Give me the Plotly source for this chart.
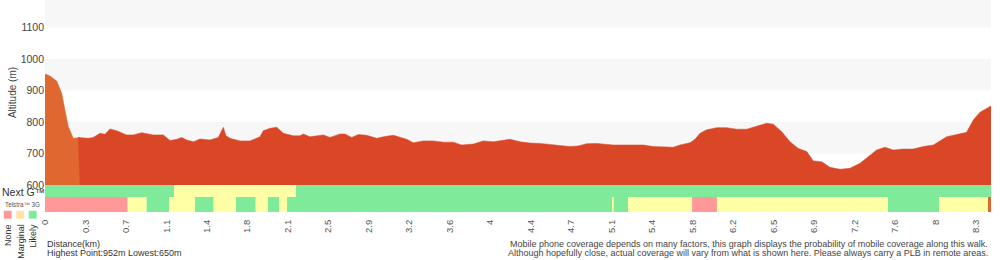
import numpy as np
import plotly.graph_objects as go

# ---------------- data ----------------
total_km = 8.43
split_km = 0.312  # end of the approach section (drawn in orange)

dist_km = [0.000, 0.045, 0.104, 0.149, 0.178, 0.208, 0.252, 0.297, 0.386, 0.430,
           0.490, 0.535, 0.579, 0.639, 0.728, 0.787, 0.862, 0.965, 1.054, 1.114,
           1.174, 1.218, 1.263, 1.322, 1.381, 1.470, 1.544, 1.575, 1.589, 1.613,
           1.649, 1.738, 1.827, 1.916, 1.945, 2.005, 2.065, 2.124, 2.213, 2.272,
           2.302, 2.361, 2.451, 2.480, 2.540, 2.629, 2.673, 2.733, 2.792, 2.866,
           2.956, 3.015, 3.104, 3.163, 3.223, 3.282, 3.371, 3.460, 3.549, 3.638,
           3.713, 3.817, 3.906, 3.995, 4.070, 4.144, 4.233, 4.322, 4.411, 4.500,
           4.589, 4.678, 4.752, 4.827, 4.916, 5.005, 5.064, 5.243, 5.332, 5.421,
           5.599, 5.659, 5.748, 5.792, 5.837, 5.897, 5.986, 6.075, 6.164, 6.253,
           6.342, 6.431, 6.490, 6.565, 6.639, 6.713, 6.788, 6.847, 6.921, 6.995,
           7.084, 7.173, 7.263, 7.322, 7.411, 7.485, 7.559, 7.648, 7.737, 7.826,
           7.916, 8.035, 8.138, 8.213, 8.272, 8.332, 8.430]
elev_m = [952, 946, 930, 891, 838, 785, 748, 751, 748, 751,
          764, 761, 778, 772, 759, 759, 766, 759, 759, 741,
          745, 751, 743, 737, 746, 743, 751, 775, 783, 756,
          748, 740, 740, 753, 772, 780, 783, 764, 756, 756,
          762, 753, 756, 759, 751, 762, 762, 751, 760, 758,
          748, 753, 758, 751, 745, 734, 740, 740, 736, 736,
          727, 730, 740, 737, 740, 745, 737, 733, 732, 729,
          725, 722, 724, 731, 732, 729, 727, 727, 727, 722,
          720, 727, 734, 745, 764, 775, 782, 782, 777, 777,
          787, 796, 793, 769, 737, 716, 706, 676, 674, 656,
          650, 653, 669, 685, 711, 720, 711, 714, 714, 722,
          727, 753, 762, 767, 806, 831, 851]

nextg_edges = [0.0, 1.150, 2.237, 8.430]
nextg_levels = ["Likely", "Marginal", "Likely"]

g3_edges = [0.0, 0.737, 0.906, 1.105, 1.337, 1.503, 1.702, 1.878, 1.987, 2.085,
            2.157, 5.053, 5.068, 5.196, 5.766, 5.988, 7.512, 7.967, 8.403, 8.430]
g3_levels = ["None", "Marginal", "Likely", "Marginal", "Likely", "Marginal", "Likely",
             "Marginal", "Likely", "Marginal", "Likely", "Marginal", "Likely",
             "Marginal", "None", "Marginal", "Likely", "Marginal", "Unknown"]

tick_labels = ["0", "0.3", "0.7", "1.1", "1.4", "1.8", "2.1", "2.5", "2.9", "3.2",
               "3.6", "4", "4.4", "4.7", "5.1", "5.4", "5.8", "6.2", "6.5", "6.9",
               "7.2", "7.6", "8", "8.3"]
tick_step_km = 0.36073

legend_levels = ["None", "Marginal", "Likely"]

# ---------------- styles ----------------
RED = "#DA4727"
ORANGE = "#E0672F"
BAND = "#F7F7F7"
LEVEL_COLOR = {"None": "#FF9999", "Marginal": "#FFFFA6", "Likely": "#7EEA9A", "Unknown": ORANGE}
LEGEND_COLOR = {"None": "#FF9999", "Marginal": "#FFE2A4", "Likely": "#7EEA9A"}
FONT = "Liberation Sans, Arial, sans-serif"
TXT = "#333333"

W, H = 1000, 260
ML, MR, MT, MB = 45, 9, 0, 48
PW = W - ML - MR
PH = H - MT - MB
COV_PX = 27  # height of coverage strip

def px_x(px):
    return (px - ML) / PW

def px_y(py):
    return (PH - (py - MT)) / PH

dist = np.array(dist_km)
elev = np.array(elev_m)

fig = go.Figure()

# approach section (orange)
mask_o = dist < split_km
xo = list(dist[mask_o]) + [split_km]
yo = list(elev[mask_o]) + [float(np.interp(split_km, dist, elev))]
fig.add_trace(go.Scatter(x=xo, y=yo, mode="lines", fill="tozeroy",
                         fillcolor=ORANGE, line=dict(color=ORANGE, width=0.5),
                         hoverinfo="skip", showlegend=False, xaxis="x", yaxis="y"))

# main walk (red)
mask_r = dist >= dist[mask_o][-1]
xr = [split_km] + list(dist[mask_r]) + [dist[-1]]
yr = [600] + list(elev[mask_r]) + [600]
fig.add_trace(go.Scatter(x=xr, y=yr, mode="lines", fill="toself",
                         fillcolor=RED, line=dict(color=RED, width=0.5),
                         hoverinfo="skip", showlegend=False, xaxis="x", yaxis="y"))

# coverage bars
def add_cov(edges, levels, ycenter, thick):
    e = np.array(edges)
    fig.add_trace(go.Bar(orientation="h", base=e[:-1], x=np.diff(e),
                         y=[ycenter] * len(levels), width=thick,
                         marker=dict(color=[LEVEL_COLOR[l] for l in levels], line=dict(width=0)),
                         hoverinfo="skip", showlegend=False, xaxis="x", yaxis="y2"))

add_cov(g3_edges, g3_levels, 7.5, 15)
add_cov(nextg_edges, nextg_levels, 21, 12)

# background bands
shapes = []
for lo in (700, 900, 1100):
    shapes.append(dict(type="rect", xref="paper", yref="y", x0=0, x1=1, y0=lo, y1=lo + 100,
                       fillcolor=BAND, line=dict(width=0), layer="below"))

# legend squares
for i, lvl in enumerate(legend_levels):
    x0 = 3.5 + i * 12.5
    shapes.append(dict(type="rect", xref="paper", yref="paper",
                       x0=px_x(x0), x1=px_x(x0 + 8.5), y0=px_y(219), y1=px_y(210.5),
                       fillcolor=LEGEND_COLOR[lvl], line=dict(color="#FFFFFF", width=0.6)))

ann = []
ann.append(dict(text="Next G™", x=px_x(0), y=px_y(192), xref="paper", yref="paper",
                xanchor="left", yanchor="middle", showarrow=False,
                font=dict(family=FONT, size=10.5, color=TXT)))
ann.append(dict(text="Telstra™ 3G", x=px_x(3), y=px_y(204), xref="paper", yref="paper",
                xanchor="left", yanchor="middle", showarrow=False,
                font=dict(family=FONT, size=6.3, color="#555555")))
for i, lvl in enumerate(legend_levels):
    ann.append(dict(text=lvl, x=px_x(8 + i * 12.3), y=px_y(222), xref="paper", yref="paper",
                    xanchor="center", yanchor="top", textangle=-90, showarrow=False,
                    font=dict(family=FONT, size=9, color=TXT)))
ann.append(dict(text="Distance(km)", x=0, y=px_y(243.5), xref="paper", yref="paper",
                xanchor="left", yanchor="middle", showarrow=False,
                font=dict(family=FONT, size=9, color=TXT)))
ann.append(dict(text=f"Highest Point:{int(elev.max())}m Lowest:{int(elev.min())}m",
                x=0, y=px_y(252.5), xref="paper", yref="paper",
                xanchor="left", yanchor="middle", showarrow=False,
                font=dict(family=FONT, size=9, color=TXT)))
ann.append(dict(text="Mobile phone coverage depends on many factors, this graph displays the probability of mobile coverage along this walk.",
                x=px_x(990), y=px_y(243.5), xref="paper", yref="paper",
                xanchor="right", yanchor="middle", showarrow=False,
                font=dict(family=FONT, size=9, color="#444444")))
ann.append(dict(text="Although hopefully close, actual coverage will vary from what is shown here. Please always carry a PLB in remote areas.",
                x=px_x(990), y=px_y(253.5), xref="paper", yref="paper",
                xanchor="right", yanchor="middle", showarrow=False,
                font=dict(family=FONT, size=9, color="#444444")))

cov_frac = COV_PX / PH

fig.update_layout(
    width=W, height=H,
    margin=dict(l=ML, r=MR, t=MT, b=MB, pad=0),
    paper_bgcolor="white", plot_bgcolor="white",
    barmode="overlay",
    showlegend=False,
    font=dict(family=FONT, size=10, color="#444444"),
    xaxis=dict(range=[0, total_km], domain=[0, 1], anchor="y2",
               tickvals=[i * tick_step_km for i in range(len(tick_labels))],
               ticktext=tick_labels, tickangle=-90, showgrid=False, zeroline=False,
               showline=False, ticks="outside", ticklen=3, tickcolor="rgba(0,0,0,0)",
               tickfont=dict(family=FONT, size=9.5, color="#555555")),
    yaxis=dict(range=[600, 1187], domain=[cov_frac, 1], anchor="x",
               tickvals=[600, 700, 800, 900, 1000, 1100], showgrid=False, zeroline=False,
               showline=False, ticks="", tickfont=dict(family=FONT, size=10.5, color="#444444"),
               title=dict(text="Altitude (m)", standoff=2,
                          font=dict(family=FONT, size=10, color="#444444"))),
    yaxis2=dict(range=[0, COV_PX], domain=[0, cov_frac], anchor="x",
                showticklabels=False, showgrid=False, zeroline=False, showline=False, ticks=""),
    shapes=shapes,
    annotations=ann,
)

fig.write_html("out.html")
